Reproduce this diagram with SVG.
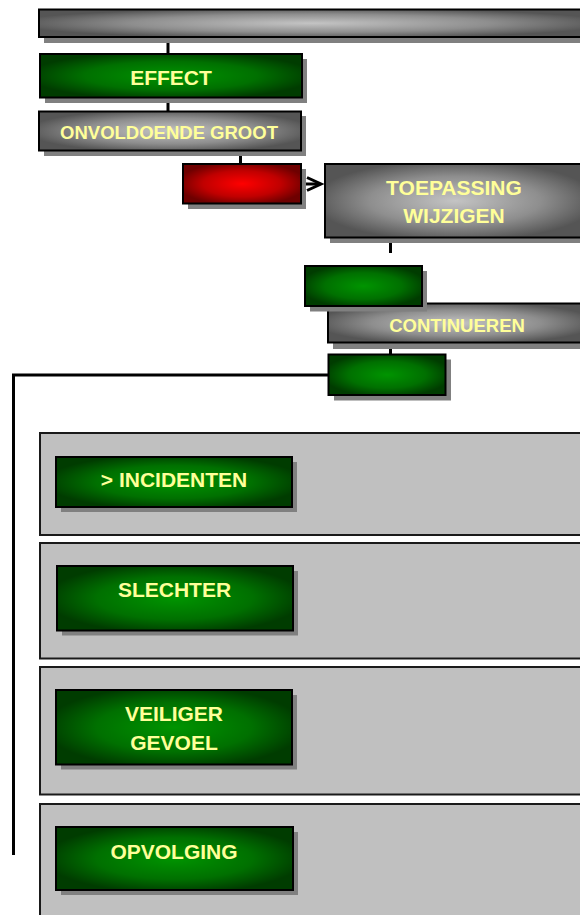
<svg xmlns="http://www.w3.org/2000/svg" width="580" height="915" viewBox="0 0 580 915">
<defs>
<radialGradient id="gGreen" cx="0.5" cy="0.5" r="0.55">
<stop offset="0" stop-color="#009400"/>
<stop offset="0.6" stop-color="#007000"/>
<stop offset="1" stop-color="#003c00"/>
</radialGradient>
<radialGradient id="gGray" cx="0.5" cy="0.5" r="0.55">
<stop offset="0" stop-color="#c4c4c4"/>
<stop offset="0.6" stop-color="#8e8e8e"/>
<stop offset="1" stop-color="#555555"/>
</radialGradient>
<radialGradient id="gRed" cx="0.5" cy="0.5" r="0.55">
<stop offset="0" stop-color="#ff0000"/>
<stop offset="0.6" stop-color="#c00000"/>
<stop offset="1" stop-color="#6e0000"/>
</radialGradient>
</defs>
<style>
.sh{fill:#808080}
.g{fill:url(#gGreen);stroke:#000;stroke-width:2}
.gr{fill:url(#gGray);stroke:#000;stroke-width:2}
.r{fill:url(#gRed);stroke:#000;stroke-width:2}
.pn{fill:#c0c0c0;stroke:#1a1a1a;stroke-width:2}
.t{font-family:"Liberation Sans",Arial,sans-serif;font-weight:bold;font-size:21px;fill:#ffff99;text-anchor:middle}
.ts{font-size:18.5px}
.c{stroke:#000;stroke-width:3;fill:none}
</style>

<g id="connectors">
<line class="c" x1="168" y1="37" x2="168" y2="54"/>
<line class="c" x1="168" y1="97" x2="168" y2="112"/>
<line class="c" x1="240.5" y1="150" x2="240.5" y2="164"/>
<line class="c" x1="301" y1="184" x2="320" y2="184"/>
<polyline class="c" points="307,177.5 321,184 307,190.5" stroke-width="4.5"/>
<line class="c" x1="390.5" y1="237" x2="390.5" y2="253"/>
<line class="c" x1="390.5" y1="342" x2="390.5" y2="355"/>
<polyline class="c" points="328,375 13.5,375 13.5,855"/>
</g>

<g id="topbar">
<rect class="sh" x="44" y="15" width="545" height="28"/>
<rect class="gr" x="39" y="9.5" width="545" height="27.5"/>
</g>

<g id="effect">
<rect class="sh" x="45" y="59" width="262" height="44"/>
<rect class="g" x="40" y="54" width="262" height="43.5"/>
<text class="t" x="171" y="85">EFFECT</text>
</g>

<g id="onvoldoende">
<rect class="sh" x="44" y="116" width="262" height="40"/>
<rect class="gr" x="39" y="111.5" width="262" height="39"/>
<text class="t ts" x="169" y="139">ONVOLDOENDE GROOT</text>
</g>

<g id="red">
<rect class="sh" x="188" y="169" width="118" height="40"/>
<rect class="r" x="183" y="164" width="118" height="39.5"/>
</g>

<g id="toepassing">
<rect class="sh" x="330" y="169" width="260" height="74"/>
<rect class="gr" x="325" y="164" width="260" height="73.5"/>
<text class="t" x="454" y="195">TOEPASSING</text>
<text class="t" x="454" y="223">WIJZIGEN</text>
</g>

<g id="continueren">
<rect class="sh" x="333" y="309" width="257" height="40"/>
<rect class="gr" x="328" y="303.5" width="257" height="39"/>
<text class="t ts" x="457" y="331.5">CONTINUEREN</text>
</g>

<g id="green1">
<rect class="sh" x="310" y="271" width="117" height="40.5"/>
<rect class="g" x="305" y="266" width="117" height="40"/>
</g>

<g id="green2">
<rect class="sh" x="334" y="359.5" width="117" height="41"/>
<rect class="g" x="328.5" y="354.5" width="117" height="40.5"/>
</g>

<g id="panel1">
<rect class="pn" x="40" y="433" width="550" height="102"/>
<rect class="sh" x="61" y="462" width="236" height="50"/>
<rect class="g" x="56" y="457" width="236" height="50"/>
<text class="t" x="174" y="486.5">&gt; INCIDENTEN</text>
</g>

<g id="panel2">
<rect class="pn" x="40" y="543" width="550" height="115.5"/>
<rect class="sh" x="62" y="571" width="236" height="64.5"/>
<rect class="g" x="57" y="566" width="236" height="64.5"/>
<text class="t" x="174.5" y="596.5">SLECHTER</text>
</g>

<g id="panel3">
<rect class="pn" x="40" y="667" width="550" height="127.5"/>
<rect class="sh" x="61" y="695" width="236" height="74.5"/>
<rect class="g" x="56" y="690" width="236" height="74.5"/>
<text class="t" x="174" y="721">VEILIGER</text>
<text class="t" x="174" y="750">GEVOEL</text>
</g>

<g id="panel4">
<rect class="pn" x="40" y="804" width="550" height="120"/>
<rect class="sh" x="61" y="832" width="237" height="63"/>
<rect class="g" x="56" y="827" width="237" height="63"/>
<text class="t" x="174" y="858.5">OPVOLGING</text>
</g>
</svg>
